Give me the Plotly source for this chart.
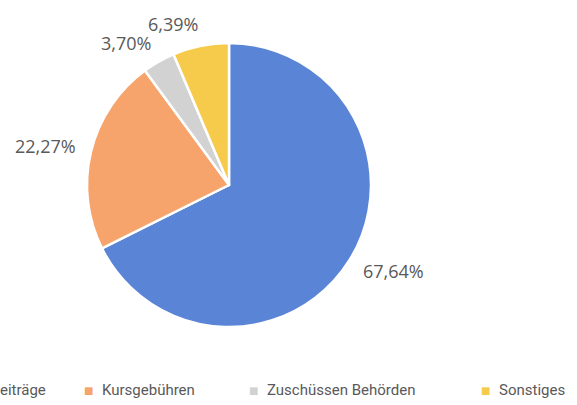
import math
import plotly.graph_objects as go

labels = ["Mitgliedsbeiträge", "Kursgebühren", "Zuschüssen Behörden", "Sonstiges"]
values = [67.64, 22.27, 3.70, 6.39]
text_labels = ["67,64%", "22,27%", "3,70%", "6,39%"]
colors = ["#5A84D6", "#F6A46B", "#D2D2D2", "#F6CB4C"]

W, H = 577, 405
TXT = "#595959"
dom_x = [0.1508, 0.643]
dom_y = [0.1926, 0.8938]

fig = go.Figure()
fig.add_trace(go.Pie(
    labels=labels, values=values, sort=False, direction="clockwise", rotation=0,
    marker=dict(colors=colors, line=dict(color="white", width=2.5)),
    textinfo="none", hoverinfo="label+percent",
    domain=dict(x=dom_x, y=dom_y), showlegend=False,
))

# value labels placed just outside the pie, along each slice's mid-angle
cx = (dom_x[0] + dom_x[1]) / 2 * W
cy = (1 - (dom_y[0] + dom_y[1]) / 2) * H
r_pie = min((dom_x[1] - dom_x[0]) * W, (dom_y[1] - dom_y[0]) * H) / 2
r_lab = r_pie + 15
half_h = 7
total = sum(values)
cum = 0
for v, t in zip(values, text_labels):
    mid = (cum + v / 2) / total * 2 * math.pi
    cum += v
    s, c = math.sin(mid), math.cos(mid)
    px = cx + r_lab * s
    py = cy - r_lab * c
    fig.add_annotation(
        x=px / W, y=1 - py / H, xref="paper", yref="paper", text=t, showarrow=False,
        xanchor="left" if s > 0 else "right", yanchor="middle",
        yshift=half_h * c, borderpad=0, borderwidth=0,
        font=dict(family="Open Sans", size=18, color=TXT),
    )

# legend row along the bottom (first entry runs off the left edge, as in the source)
legend_text_x = [48, 100, 265, 497]          # px
legend_text_anchor = ["right", "left", "left", "left"]
legend_y = 1 - 390 / H
for i, (name, col) in enumerate(zip(labels, colors)):
    fig.add_annotation(x=legend_text_x[i] / W, y=legend_y, xref="paper", yref="paper",
                       text=name, showarrow=False, xanchor=legend_text_anchor[i],
                       yanchor="middle", font=dict(family="Roboto", size=15, color=TXT))
    if legend_text_anchor[i] == "left":
        fig.add_annotation(x=(legend_text_x[i] - 12) / W, y=legend_y - 0.002,
                           xref="paper", yref="paper", text="■", showarrow=False,
                           xanchor="center", yanchor="middle",
                           font=dict(family="DejaVu Sans", size=10, color=col))

fig.update_layout(
    width=W, height=H,
    margin=dict(l=0, r=0, t=0, b=0, autoexpand=False),
    paper_bgcolor="white", plot_bgcolor="white",
    font=dict(family="Open Sans", size=16, color=TXT),
)
fig.write_html("out.html")
